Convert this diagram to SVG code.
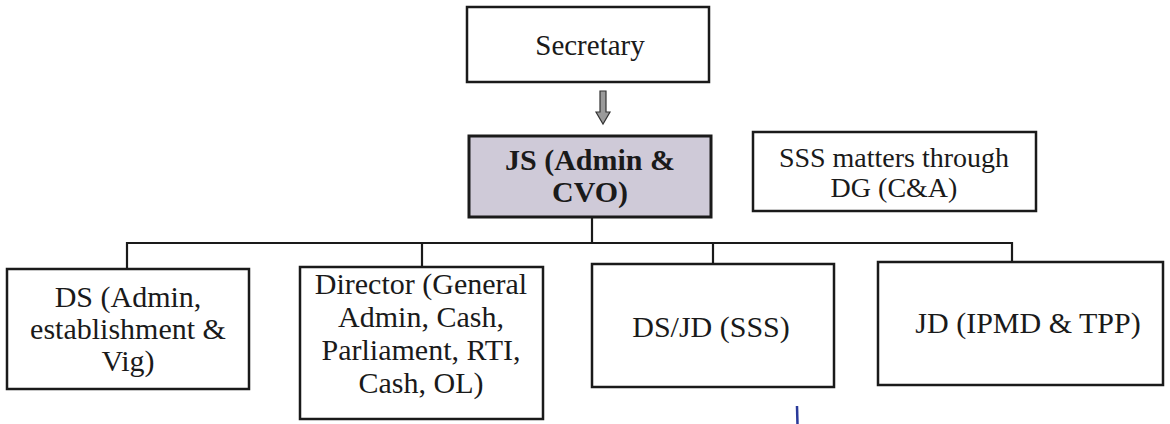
<svg xmlns="http://www.w3.org/2000/svg" width="1170" height="424" viewBox="0 0 1170 424">
  <style>
    .box { fill: #ffffff; stroke: #1a1a1a; stroke-width: 2.5; }
    .hl { fill: #cfcad8; stroke: #1a1a1a; stroke-width: 3; }
    text { font-family: 'Liberation Serif', 'Times New Roman', Times, 'Nimbus Roman', 'Nimbus Roman No9 L', FreeSerif, Tinos, 'Noto Serif', 'DejaVu Serif', serif; font-size: 30px; fill: #1a1a1a; text-anchor: middle; }
    .b { font-weight: bold; }
    .conn { fill: none; stroke: #1a1a1a; stroke-width: 2.2; }
  </style>
  <rect width="1170" height="424" fill="#ffffff"/>

  <g id="connectors">
    <path class="conn" d="M592,217 V242"/>
    <path class="conn" d="M127,243 H1012"/>
    <path class="conn" d="M127,242 V269"/>
    <path class="conn" d="M422,242 V267"/>
    <path class="conn" d="M713,242 V264"/>
    <path class="conn" d="M1012,242 V262"/>
    <path d="M600,91 H606 V112 H610 L603,124 L596,112 H600 Z" fill="#9a9a9a" stroke="#333333" stroke-width="1.2"/>
  </g>

  <g id="secretary">
    <rect class="box" x="467" y="7" width="242" height="75"/>
    <text x="590" y="55" style="font-size:29px">Secretary</text>
  </g>

  <g id="js">
    <rect class="hl" x="469" y="136" width="242" height="81"/>
    <text class="b" x="590" y="170">JS (Admin &amp;</text>
    <text class="b" x="590" y="202">CVO)</text>
  </g>

  <g id="sss">
    <rect class="box" x="753" y="132" width="283" height="79"/>
    <text x="894" y="167" style="font-size:28px">SSS matters through</text>
    <text x="894" y="197" style="font-size:28px">DG (C&amp;A)</text>
  </g>

  <g id="ds">
    <rect class="box" x="7" y="269" width="242" height="120"/>
    <text x="128" y="307">DS (Admin,</text>
    <text x="128" y="339">establishment &amp;</text>
    <text x="128" y="371">Vig)</text>
  </g>

  <g id="director">
    <rect class="box" x="300" y="267" width="243" height="152"/>
    <text x="421" y="294">Director (General</text>
    <text x="421" y="327">Admin, Cash,</text>
    <text x="421" y="360">Parliament, RTI,</text>
    <text x="421" y="393">Cash, OL)</text>
  </g>

  <g id="dsjd">
    <rect class="box" x="592" y="264" width="242" height="123"/>
    <text x="711" y="337">DS/JD (SSS)</text>
  </g>

  <g id="jd">
    <rect class="box" x="878" y="262" width="285" height="123"/>
    <text x="1028" y="333">JD (IPMD &amp; TPP)</text>
  </g>

  <path d="M797,406 L797.5,424" stroke="#2a3a9a" stroke-width="2.5" fill="none"/>
</svg>
